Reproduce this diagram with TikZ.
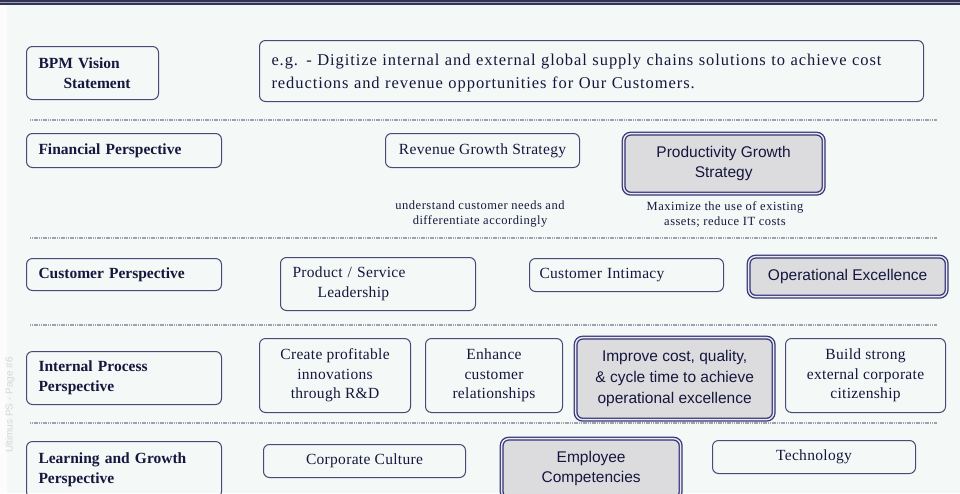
\documentclass[tikz,border=0pt]{standalone}
\usepackage{fontspec}
\setmainfont{Liberation Serif}
\newfontfamily\arialf{Liberation Sans}
\newfontfamily\widerm[LetterSpace=4]{Liberation Serif}
\newfontfamily\visrm[LetterSpace=5.6]{Liberation Serif}
\newfontfamily\midrm[LetterSpace=2]{Liberation Serif}
\definecolor{bgc}{HTML}{F4F8F6}
\definecolor{boxc}{HTML}{4A4A78}
\definecolor{hic}{HTML}{34347A}
\definecolor{txtc}{HTML}{16163E}
\definecolor{hifill}{HTML}{DCDCDF}
\definecolor{sepc}{HTML}{A0A0B0}
\definecolor{wmc}{HTML}{D4D8DC}
\tikzset{
  basebox/.style={anchor=north west, draw=boxc, rounded corners=6pt, line width=1pt, text=txtc, inner sep=0pt},
  lbl/.style={basebox, font=\bfseries\fontsize{15.5}{20}\selectfont, align=left},
  plainbox/.style={basebox, font=\midrm\fontsize{15.5}{19.5}\selectfont, align=center},
  hibox/.style={anchor=north west, draw=hic, double=hifill!60!white, double distance=1.4pt, line width=1.3pt,
    fill=hifill, rounded corners=7pt, text=txtc, inner sep=0pt, font=\arialf\fontsize{15.5}{20}\selectfont, align=center},
  annot/.style={text=txtc, font=\widerm\fontsize{12.5}{15}\selectfont, align=center, inner sep=0pt},
  sepline/.style={draw=sepc, line width=1.6pt, dash pattern=on 1.2pt off 0.6pt}
}
\begin{document}
\begin{tikzpicture}[x=1pt,y=-1pt]
\useasboundingbox (0,0) rectangle (960,493);
\clip (0,0) rectangle (960,493);
\fill[bgc] (0,0) rectangle (960,493);
\fill[white!60!bgc] (0,4) rectangle (7,493);
% top band
\fill[black!75!blue!60!gray] (0,0) rectangle (960,4.5);
\draw[color={rgb,255:red,160;green,160;blue,176}, line width=1pt] (0,2.2) -- (960,2.2);

% watermark
\node[rotate=90, text=wmc, font=\arialf\fontsize{10}{12}\selectfont, inner sep=0pt] (wm) at (10,405) {Ultimus PS - Page \#6};

% separators
\foreach \yy/\nm in {120/s1,238/s2,325/s3,423/s4}{
  \coordinate (\nm a) at (30,\yy);
  \coordinate (\nm b) at (937,\yy);
  \draw[sepline] (\nm a) -- (\nm b);
}

% row 1: vision
\node[lbl, minimum width=132pt, minimum height=53pt, text width=108pt, inner xsep=12pt] (bpm) at (26,46) {BPM Vision\\\hspace*{25pt}Statement};
\node[basebox, minimum width=664pt, minimum height=61pt, text width=640pt, inner xsep=12pt, align=left, font=\visrm\fontsize{16.5}{23}\selectfont] (vision) at (259,40)
  {\rule{0pt}{16pt}e.g. - Digitize internal and external global supply chains solutions to achieve cost\\reductions and revenue opportunities for Our Customers.};

% row 2: financial
\node[lbl, minimum width=195pt, minimum height=34pt, text width=171pt, inner xsep=12pt] (fin) at (26,133) {Financial Perspective};
\node[plainbox, minimum width=194pt, minimum height=34pt] (rev) at (385,133) {Revenue Growth Strategy};
\node[hibox, minimum width=200pt, minimum height=60pt] (prod) at (623,133) {Productivity Growth\\Strategy};
\node[annot] (an1) at (480,214.5) {understand customer needs and\\differentiate accordingly};
\node[annot] (an2) at (725,214.5) {Maximize the use of existing\\assets; reduce IT costs};

% row 3: customer
\node[lbl, minimum width=195pt, minimum height=32pt, text width=171pt, inner xsep=12pt] (cust) at (26,258) {Customer Perspective};
\node[plainbox, minimum width=195pt, minimum height=53pt, text width=171pt, inner xsep=12pt, align=left] (psl) at (280,257) {Product / Service\\\hspace*{25pt}Leadership};
\node[plainbox, minimum width=194pt, minimum height=33pt, text width=174pt, inner xsep=10pt, align=left] (ci) at (529,258) {Customer Intimacy};
\node[hibox, minimum width=198pt, minimum height=40pt] (opx) at (748,256) {Operational Excellence};

% row 4: internal process
\node[lbl, minimum width=195pt, minimum height=53pt, text width=171pt, inner xsep=12pt] (ipp) at (26,351) {Internal Process\\Perspective};
\node[plainbox, minimum width=151pt, minimum height=74pt] (cpi) at (259,338) {Create profitable\\innovations\\through R\&D};
\node[plainbox, minimum width=137pt, minimum height=74pt] (ecr) at (425,338) {Enhance\\customer\\relationships};
\node[hibox, minimum width=198pt, minimum height=82pt, font=\arialf\fontsize{15.5}{21}\selectfont] (ict) at (575,337) {Improve cost, quality,\\\& cycle time to achieve\\operational excellence};
\node[plainbox, minimum width=160pt, minimum height=74pt] (bsc) at (785,338) {Build strong\\external corporate\\citizenship};

% row 5: learning and growth
\node[lbl, minimum width=195pt, minimum height=56pt, text width=171pt, inner xsep=12pt] (lgp) at (26,441) {Learning and Growth\\Perspective};
\node[plainbox, minimum width=202pt, minimum height=33pt] (cc) at (263,444) {Corporate Culture};
\node[hibox, minimum width=179pt, minimum height=60pt] (ec) at (501,438) {Employee\\Competencies};
\node[plainbox, minimum width=203pt, minimum height=33pt] (tech) at (712,440) {Technology};
\end{tikzpicture}
\end{document}
